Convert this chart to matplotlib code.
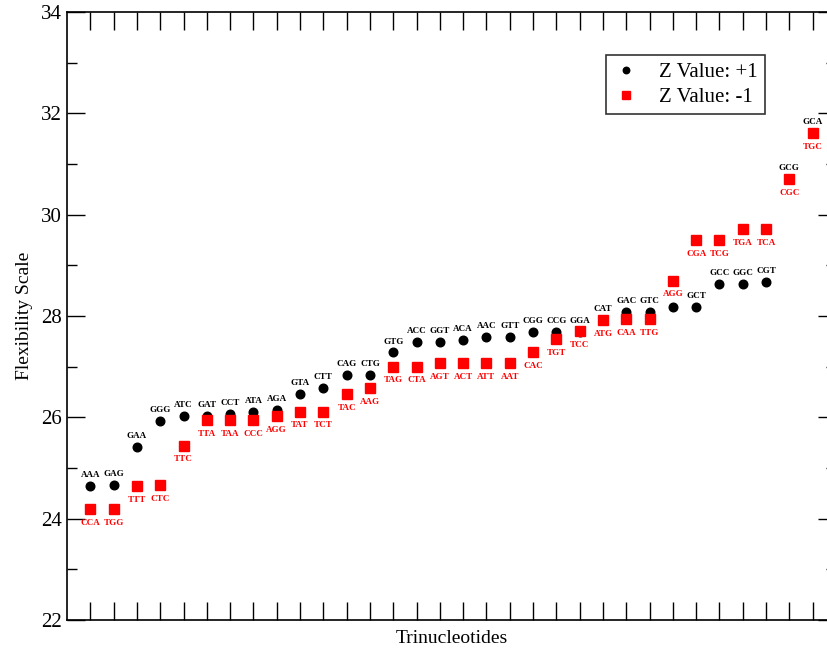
import matplotlib
matplotlib.use("Agg")
import matplotlib.pyplot as plt
from matplotlib.ticker import MultipleLocator

plt.rcParams['font.family'] = ['Liberation Serif', 'DejaVu Serif']

positions = list(range(1, 33))

pos_labels = ["AAA", "GAG", "GAA", "GGG", "ATC", "GAT", "CCT", "ATA", "AGA", "GTA",
              "CTT", "CAG", "CTG", "GTG", "ACC", "GGT", "ACA", "AAC", "GTT", "CGG",
              "CCG", "GGA", "CAT", "GAC", "GTC", "", "GCT", "GCC", "GGC", "CGT",
              "GCG", "GCA"]
pos_values = [24.65, 24.66, 25.42, 25.93, 26.02, 26.03, 26.07, 26.11, 26.14, 26.46,
              26.58, 26.84, 26.84, 27.28, 27.48, 27.49, 27.53, 27.59, 27.59, 27.68,
              27.68, 27.69, 27.92, 28.08, 28.08, 28.17, 28.17, 28.63, 28.63, 28.68,
              30.70, 31.61]

neg_labels = ["CCA", "TGG", "TTT", "CTC", "TTC", "TTA", "TAA", "CCC", "AGG", "TAT",
              "TCT", "TAC", "AAG", "TAG", "CTA", "AGT", "ACT", "ATT", "AAT", "CAC",
              "TGT", "TCC", "ATG", "CAA", "TTG", "AGG", "CGA", "TCG", "TGA", "TCA",
              "CGC", "TGC"]
neg_values = [24.19, 24.19, 24.64, 24.66, 25.44, 25.95, 25.95, 25.95, 26.03, 26.11,
              26.11, 26.46, 26.58, 27.00, 27.00, 27.07, 27.07, 27.07, 27.07, 27.29,
              27.55, 27.70, 27.92, 27.94, 27.94, 28.70, 29.50, 29.50, 29.72, 29.72,
              30.70, 31.61]

fig = plt.figure(figsize=(8.28, 6.51), dpi=100)
ax = fig.add_axes([67/828, 31/651, 769/828, 608/651])

ax.plot(positions, pos_values, linestyle='none', marker='o', color='black',
        markersize=6.2, label='Z Value: +1', zorder=3)
ax.plot(positions, neg_values, linestyle='none', marker='s', color='red',
        markersize=7, label='Z Value: -1', zorder=4)

for x, y, t in zip(positions, pos_values, pos_labels):
    if t:
        ax.annotate(t, (x, y), xytext=(0, 5), textcoords='offset points',
                    ha='center', va='bottom', fontsize=6.5, fontweight='bold',
                    color='black', zorder=5)
for x, y, t in zip(positions, neg_values, neg_labels):
    ax.annotate(t, (x, y), xytext=(0, -7), textcoords='offset points',
                ha='center', va='top', fontsize=6.5, fontweight='bold',
                color='red', zorder=6)

ax.set_xlim(0, 33)
ax.set_ylim(22, 34)
ax.set_xticks(positions)
ax.set_xticklabels([])
ax.yaxis.set_major_locator(MultipleLocator(2))
ax.yaxis.set_minor_locator(MultipleLocator(1))
ax.tick_params(axis='x', which='major', direction='in', length=13, width=1,
               top=True, bottom=True)
ax.tick_params(axis='y', which='major', direction='in', length=13, width=1,
               left=True, right=True, labelsize=15)
ax.tick_params(axis='y', which='minor', direction='in', length=7, width=1,
               left=True, right=True)
for s in ax.spines.values():
    s.set_linewidth(1.2)

ax.set_xlabel('Trinucleotides', fontsize=14, labelpad=4)
ax.set_ylabel('Flexibility Scale', fontsize=14, labelpad=6)

leg = ax.legend(loc='upper right', bbox_to_anchor=(0.908, 0.929), borderaxespad=0,
                fontsize=15, frameon=True, fancybox=False, edgecolor='black',
                handlelength=1.2, handletextpad=1.0, borderpad=0.35,
                labelspacing=0.25, markerscale=0.75)
leg.get_frame().set_linewidth(1.2)

fig.savefig('out.png', dpi=100)
